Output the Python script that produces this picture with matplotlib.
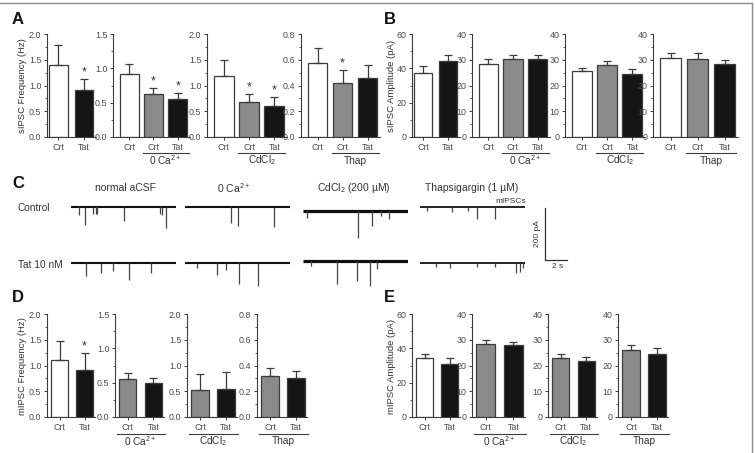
import numpy as np
import matplotlib
matplotlib.use('Agg')
import matplotlib.pyplot as plt
from matplotlib.ticker import MultipleLocator, AutoMinorLocator, FormatStrFormatter
from matplotlib.lines import Line2D
import matplotlib.transforms as mtransforms

plt.rcParams['font.family'] = ['Liberation Sans', 'DejaVu Sans']
plt.rcParams['mathtext.fontset'] = 'custom'
plt.rcParams['mathtext.rm'] = 'Liberation Sans'
plt.rcParams['mathtext.it'] = 'Liberation Sans:italic'
plt.rcParams['mathtext.bf'] = 'Liberation Sans:bold'

# ---------------- data ----------------
group_names = [None, '0 Ca$^{2+}$', 'CdCl$_2$', 'Thap']
labels_2 = ['Crt', 'Tat']
labels_3 = ['Crt', 'Crt', 'Tat']

# A: sIPSC frequency (Hz)
A_vals = [[1.40, 0.91], [0.92, 0.62, 0.56], [1.19, 0.67, 0.61], [0.575, 0.42, 0.46]]
A_errs = [[0.38, 0.22], [0.14, 0.09, 0.08], [0.30, 0.17, 0.17], [0.115, 0.10, 0.10]]
A_sig = [[0, 1], [0, 1, 1], [0, 1, 1], [0, 1, 0]]
# B: sIPSC amplitude (pA)
B_vals = [[37.5, 44.0], [28.5, 30.3, 30.1], [25.5, 27.8, 24.3], [30.7, 30.3, 28.4]]
B_errs = [[4.0, 3.8], [1.7, 1.5, 1.8], [1.2, 1.9, 2.0], [2.1, 2.2, 1.6]]
B_sig = [[0, 0], [0, 0, 0], [0, 0, 0], [0, 0, 0]]
# D: mIPSC frequency (Hz)
D_vals = [[1.11, 0.92], [0.55, 0.49], [0.52, 0.55], [0.32, 0.30]]
D_errs = [[0.36, 0.32], [0.09, 0.08], [0.31, 0.32], [0.06, 0.06]]
D_sig = [[0, 1], [0, 0], [0, 0], [0, 0]]
# E: mIPSC amplitude (pA)
E_vals = [[34.5, 31.0], [28.5, 27.8], [23.0, 21.8], [26.0, 24.6]]
E_errs = [[2.3, 3.5], [1.5, 1.4], [1.3, 1.4], [1.8, 2.2]]
E_sig = [[0, 0], [0, 0], [0, 0], [0, 0]]

# C: example traces, events (time s, amplitude pA)
trace_titles = ['normal aCSF', '0 Ca$^{2+}$', 'CdCl$_2$ (200 µM)', 'Thapsigargin (1 µM)']
trace_duration = 9.5
normal_ctrl_t = [0.7, 1.3, 2.0, 2.3, 2.4, 4.8, 8.1, 8.3, 8.6]
normal_ctrl_amp = [30, 69, 27, 27, 27, 54, 27, 31, 81]
normal_tat_t = [1.4, 2.7, 3.8, 5.3, 7.3]
normal_tat_amp = [50, 38, 32, 64, 38]
ca0_ctrl_t = [4.2, 4.8, 8.1]
ca0_ctrl_amp = [62, 72, 76]
ca0_tat_t = [1.1, 2.9, 3.7, 4.9, 6.6]
ca0_tat_amp = [18, 45, 25, 80, 88]
cd_ctrl_t = [0.4, 5.0, 6.3, 7.1, 7.8]
cd_ctrl_amp = [28, 105, 58, 20, 30]
cd_tat_t = [0.7, 3.1, 4.9, 6.1, 6.7]
cd_tat_amp = [20, 88, 78, 98, 30]
thap_ctrl_t = [0.6, 2.9, 4.4, 5.2, 6.8]
thap_ctrl_amp = [15, 20, 15, 45, 45]
thap_tat_t = [1.5, 2.7, 5.2, 6.8, 8.7, 9.1, 9.4]
thap_tat_amp = [15, 20, 15, 15, 40, 35, 20]
scale_pA = 200
scale_s = 2

# ---------------- figure ----------------
W, H = 755, 453
fig = plt.figure(figsize=(W / 100, H / 100), dpi=100)
EDGE = '#3c3c3c'
TXT = '#333333'
WHITE, GRAY, BLACK = '#ffffff', '#8a8a8a', '#151515'


def rect(x0, x1, ytop, ybot):
    return [x0 / W, 1 - ybot / H, (x1 - x0) / W, (ybot - ytop) / H]


def bar_panel(box, ytop, ybot, vals, errs, sig, colors, labels, ymax, ystep, fmt,
              group, line_y, label_y, xlim, width):
    x0, x1 = box
    ax = fig.add_axes(rect(x0, x1, ytop, ybot))
    x = np.arange(len(vals))
    ax.bar(x, vals, width=width, color=colors, edgecolor=EDGE, linewidth=0.9, zorder=2)
    ax.errorbar(x, vals, yerr=[np.zeros(len(vals)), errs], fmt='none', ecolor=EDGE,
                elinewidth=0.9, capsize=2.6, capthick=0.9, zorder=3)
    for i, s in enumerate(sig):
        if s:
            ax.annotate('*', (x[i], vals[i] + errs[i]), xytext=(0, 0.5),
                        textcoords='offset points', ha='center', va='bottom',
                        fontsize=9, color=TXT)
    ax.set_xlim(*xlim)
    ax.set_ylim(0, ymax)
    ax.yaxis.set_major_locator(MultipleLocator(ystep))
    ax.yaxis.set_minor_locator(AutoMinorLocator(2))
    ax.yaxis.set_major_formatter(FormatStrFormatter(fmt))
    ax.set_xticks(x)
    ax.set_xticklabels(labels)
    for sp in ['top', 'right']:
        ax.spines[sp].set_visible(False)
    for sp in ['left', 'bottom']:
        ax.spines[sp].set_color(EDGE)
        ax.spines[sp].set_linewidth(0.8)
    ax.tick_params(axis='both', which='major', length=2.5, width=0.7, color=EDGE,
                   labelsize=6.4, labelcolor='#4a4a4a', pad=1.5)
    ax.tick_params(axis='y', which='minor', length=1.4, width=0.6, color=EDGE)
    if group is not None:
        tr = mtransforms.blended_transform_factory(ax.transData, ax.transAxes)
        h = ybot - ytop
        if len(vals) == 3:
            xa, xb = 1 - width / 2 - 0.05, 2 + width / 2 + 0.05
        else:
            xa, xb = -width / 2 - 0.1, 1 + width / 2 + 0.1
        ax.add_line(Line2D([xa, xb], [-(line_y - ybot) / h] * 2, transform=tr,
                           color=EDGE, lw=0.8, clip_on=False))
        ax.text((xa + xb) / 2, -(label_y - ybot) / h, group, transform=tr,
                ha='center', va='center', fontsize=7.3, color=TXT)
    return ax


AB_top, AB_bot = 34, 137
DE_top, DE_bot = 314, 417
A_boxes = [(47, 96), (113, 190), (207, 287), (301, 380)]
B_boxes = [(412, 460), (472, 550), (565, 645), (653, 738)]
D_boxes = [(47, 95), (115, 164), (187, 237), (257, 307)]
E_boxes = [(412, 460), (472, 525), (548, 597), (618, 668)]
A_ax = [(2.0, 0.5), (1.5, 0.5), (2.0, 0.5), (0.8, 0.2)]
B_ax = [(60, 20), (40, 10), (40, 10), (40, 10)]

for i in range(4):
    n = len(A_vals[i])
    cols = [WHITE, BLACK] if n == 2 else [WHITE, GRAY, BLACK]
    labs = labels_2 if n == 2 else labels_3
    xl = (-0.45, 1.47) if n == 2 else (-0.66, 2.5)
    wd = 0.72 if n == 2 else 0.78
    bar_panel(A_boxes[i], AB_top, AB_bot, A_vals[i], A_errs[i], A_sig[i], cols, labs,
              A_ax[i][0], A_ax[i][1], '%.1f', group_names[i], 153, 160.5, xl, wd)
    bar_panel(B_boxes[i], AB_top, AB_bot, B_vals[i], B_errs[i], B_sig[i], cols, labs,
              B_ax[i][0], B_ax[i][1], '%d', group_names[i], 153, 160.5, xl, wd)

for i in range(4):
    cols = [WHITE, BLACK] if i == 0 else [GRAY, BLACK]
    xl = (-0.5, 1.42)
    bar_panel(D_boxes[i], DE_top, DE_bot, D_vals[i], D_errs[i], D_sig[i], cols, labels_2,
              A_ax[i][0], A_ax[i][1], '%.1f', group_names[i], 433.5, 441, xl, 0.68)
    bar_panel(E_boxes[i], DE_top, DE_bot, E_vals[i], E_errs[i], E_sig[i], cols, labels_2,
              B_ax[i][0], B_ax[i][1], '%d', group_names[i], 433.5, 441, xl, 0.68)


def ftext(x, y, s, **kw):
    fig.text(x / W, 1 - y / H, s, **kw)


# y labels
ftext(23, 86, 'sIPSC Frequency (Hz)', rotation=90, ha='center', va='center', fontsize=6.8, color=TXT)
ftext(392, 86, 'sIPSC Amplitude (pA)', rotation=90, ha='center', va='center', fontsize=6.8, color=TXT)
ftext(23, 366, 'mIPSC Frequency (Hz)', rotation=90, ha='center', va='center', fontsize=6.8, color=TXT)
ftext(392, 366, 'mIPSC Amplitude (pA)', rotation=90, ha='center', va='center', fontsize=6.8, color=TXT)

# panel letters
for lab, x, y in [('A', 12, 20), ('B', 384, 20), ('C', 12, 183), ('D', 12, 298), ('E', 384, 298)]:
    ftext(x, y, lab, ha='left', va='center', fontsize=12, fontweight='bold', color='#111111')

# ---------------- panel C traces ----------------
px_per_s = 11.0
pA_per_px = scale_pA / 52.0
trace_x0 = [71, 185, 303, 420]
title_x = [125, 234, 354, 472]
ctrl_base = [207, 207, 211, 207]
tat_base = [263, 263, 261, 263]
trace_lw = [1.5, 1.5, 2.3, 1.3]
ctrl_events = [(normal_ctrl_t, normal_ctrl_amp), (ca0_ctrl_t, ca0_ctrl_amp),
               (cd_ctrl_t, cd_ctrl_amp), (thap_ctrl_t, thap_ctrl_amp)]
tat_events = [(normal_tat_t, normal_tat_amp), (ca0_tat_t, ca0_tat_amp),
              (cd_tat_t, cd_tat_amp), (thap_tat_t, thap_tat_amp)]


def trace_axes(x0, base):
    above, below = 8, 40
    w = trace_duration * px_per_s
    ax = fig.add_axes(rect(x0, x0 + w, base - above, base + below))
    ax.set_xlim(0, trace_duration)
    ax.set_ylim(-below * pA_per_px, above * pA_per_px)
    ax.axis('off')
    return ax


for i in range(4):
    ftext(title_x[i], 188, trace_titles[i], ha='center', va='center', fontsize=7.5, color=TXT)
    for base, (tt, aa) in [(ctrl_base[i], ctrl_events[i]), (tat_base[i], tat_events[i])]:
        ax = trace_axes(trace_x0[i], base)
        ax.plot([0, trace_duration], [0, 0], color='#111111', lw=trace_lw[i],
                solid_capstyle='butt')
        ax.vlines(tt, 0, -np.array(aa, dtype=float), color='#444444', lw=0.9)
        if i == 3 and base == ctrl_base[i]:
            ax.text(8.2, 6, 'mIPSCs', ha='center', va='bottom', fontsize=6, color=TXT)

ftext(18, 208, 'Control', ha='left', va='center', fontsize=7.3, color=TXT)
ftext(18, 265, 'Tat 10 nM', ha='left', va='center', fontsize=7.3, color=TXT)

# scale bar
sb = fig.add_axes(rect(530, 580, 200, 275))
sb.set_xlim(-15 / px_per_s, 35 / px_per_s)
sb.set_ylim(-15 * pA_per_px, 60 * pA_per_px)
sb.axis('off')
sb.plot([0, 0, scale_s], [scale_pA, 0, 0], color='#333333', lw=0.9)
sb.text(-0.65, scale_pA / 2, '%d pA' % scale_pA, rotation=90, ha='center', va='center',
        fontsize=6, color=TXT)
sb.text(scale_s / 2 + 0.1, -7 * pA_per_px, '%d s' % scale_s, ha='center', va='center',
        fontsize=6, color=TXT)

# frame lines (top and right)
fig.add_artist(Line2D([0, 752 / W], [1 - 3 / H, 1 - 3 / H], color='#8a8a8a', lw=1.0))
fig.add_artist(Line2D([752 / W, 752 / W], [0, 1 - 3 / H], color='#8a8a8a', lw=1.0))

fig.savefig('out.png', dpi=100)
